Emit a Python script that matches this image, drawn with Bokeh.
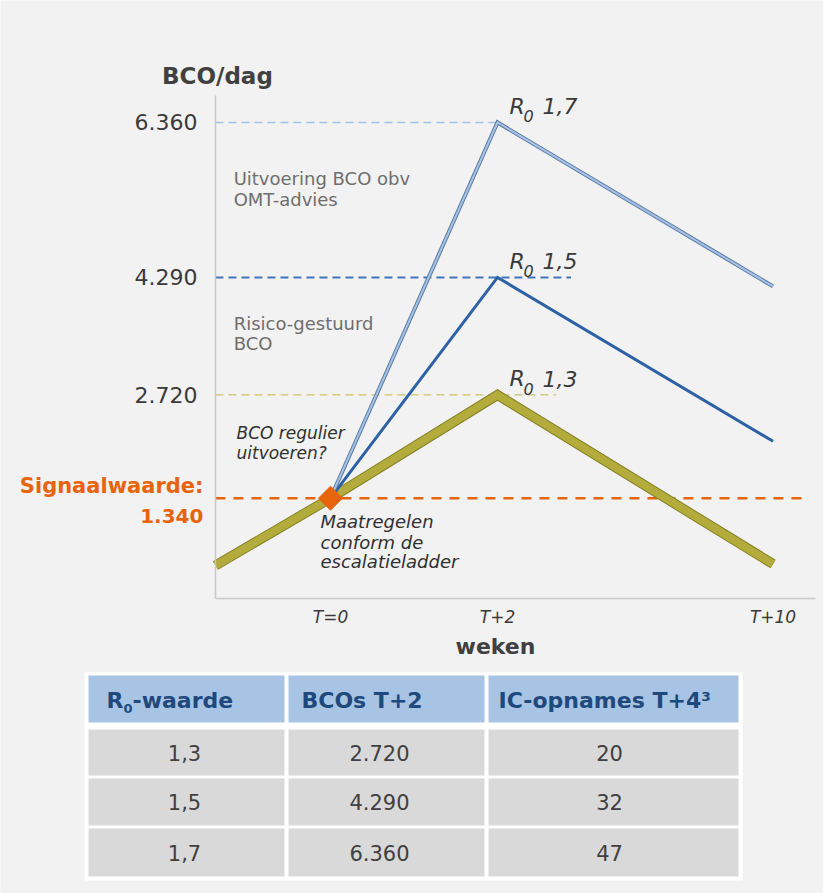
from bokeh.plotting import figure
from bokeh.models import Range1d, FixedTicker, Label
from bokeh.embed import file_html
from bokeh.resources import INLINE
from bokeh.core.properties import value
import math

# ---------------- data ----------------
week_labels = ["T=0", "T+2", "T+10"]
week_pos = [0.0, 1.0, 2.65]          # schematic (not to scale) positions
entry_pos = -0.689                    # left edge of the chart (y-axis position)
chart_right = 2.904
bco_top = 6721

r0_labels = ["1,3", "1,5", "1,7"]
r13_x = [-0.689, 0.0, 1.0, 2.65]
r13_y = [440, 1340, 2720, 460]
r15_x = [0.0, 1.0, 2.65]
r15_y = [1340, 4290, 2100]
r17_x = [0.0, 1.0, 2.65]
r17_y = [1340, 6360, 4170]
peaks = [2720, 4290, 6360]
signal_value = 1340
ic_t4 = [20, 32, 47]

level_ends = [1.35, 1.44, 1.0]        # where the dashed reference lines stop
signal_end = 2.85

def fmt(v):
    return f"{v:,}".replace(",", ".")

# ---------------- style ----------------
BG = "#f2f2f2"
FONT = "DejaVu Sans"
DARK = "#3a3a3a"
ORANGE = "#e8640c"
OLIVE = "#b3ac3c"
OLIVE_EDGE = "#858024"
BLUE = "#2d61a6"
LBLUE = "#a6c2e6"
LBLUE_EDGE = "#5a7aa3"
FIX = 7   # baseline correction for labels (px)

W, H = 823, 893
p = figure(width=W, height=H, x_range=Range1d(-1.976, 2.952), y_range=Range1d(-3942, 7990),
           output_backend="svg", toolbar_location=None, min_border=0)
p.background_fill_color = BG
p.border_fill_color = BG
p.outline_line_color = None
p.grid.visible = False

# y axis
p.yaxis.fixed_location = entry_pos
p.yaxis.bounds = (0, bco_top)
p.yaxis.ticker = FixedTicker(ticks=peaks)
p.yaxis.major_label_overrides = {v: fmt(v) for v in peaks}
p.yaxis.major_label_text_font = FONT
p.yaxis.major_label_text_font_size = "22px"
p.yaxis.major_label_text_color = DARK
p.yaxis.major_label_standoff = 12
p.yaxis.axis_line_color = "#c8c8c8"
p.yaxis.axis_line_width = 1.5
p.yaxis.major_tick_line_color = None
p.yaxis.minor_tick_line_color = None

# x axis
p.xaxis.fixed_location = 0
p.xaxis.bounds = (entry_pos, chart_right)
p.xaxis.ticker = FixedTicker(ticks=week_pos)
p.xaxis.major_label_overrides = dict(zip(week_pos, week_labels))
p.xaxis.major_label_text_font = FONT
p.xaxis.major_label_text_font_style = "italic"
p.xaxis.major_label_text_font_size = "17px"
p.xaxis.major_label_text_color = DARK
p.xaxis.major_label_standoff = 3
p.xaxis.axis_line_color = "#c8c8c8"
p.xaxis.axis_line_width = 1.5
p.xaxis.major_tick_line_color = None
p.xaxis.minor_tick_line_color = None

# dashed reference levels
lvl_colors = ["#c9c56a", "#3f74ba", "#a3c1e8"]
lvl_widths = [1.3, 2.0, 1.5]
p.segment(x0=[entry_pos] * 3, y0=peaks, x1=level_ends, y1=peaks,
          line_color=lvl_colors, line_width=lvl_widths, line_dash="8 5")
p.segment(x0=[entry_pos], y0=[signal_value], x1=[signal_end], y1=[signal_value],
          line_color=ORANGE, line_width=2.5, line_dash="10 8")

# scenario lines
p.line(r13_x, r13_y, line_color=OLIVE_EDGE, line_width=10, line_join="miter")
p.line(r13_x, r13_y, line_color=OLIVE, line_width=8, line_join="miter")
p.line(r15_x, r15_y, line_color=BLUE, line_width=3, line_join="miter")
p.line(r17_x, r17_y, line_color=LBLUE_EDGE, line_width=4, line_join="miter")
p.line(r17_x, r17_y, line_color=LBLUE, line_width=2, line_join="miter")

# signal marker
p.scatter(x=[week_pos[0]], y=[signal_value], marker="square", size=17, angle=math.pi / 4,
          fill_color=ORANGE, line_color=ORANGE)

# R0 labels at peaks
for lab, pk in zip(r0_labels, peaks):
    common = dict(x=week_pos[1], y=pk, text_font=FONT, text_font_style="italic",
                  text_color=DARK, text_baseline="alphabetic")
    p.add_layout(Label(text="R", x_offset=12, y_offset=9 + FIX, text_font_size="22px", **common))
    p.add_layout(Label(text="0", x_offset=26, y_offset=-1 + FIX, text_font_size="16px", **common))
    p.add_layout(Label(text=lab, x_offset=45, y_offset=9 + FIX, text_font_size="22px", **common))

# axis titles + signal value
p.add_layout(Label(text="BCO/dag", x=entry_pos, y=bco_top, x_offset=2, y_offset=12 + FIX,
                   text_align="center", text_baseline="alphabetic", text_font=FONT,
                   text_font_style="bold", text_font_size="23px", text_color="#404040"))
p.add_layout(Label(text="weken", x=week_pos[1], y=0, x_offset=-2, y_offset=-55 + FIX,
                   text_align="center", text_baseline="alphabetic", text_font=FONT,
                   text_font_style="bold", text_font_size="22px", text_color="#404040"))
p.add_layout(Label(text="Signaalwaarde:", x=entry_pos, y=signal_value, x_offset=-12, y_offset=5 + FIX,
                   text_align="right", text_baseline="alphabetic", text_font=FONT,
                   text_font_style="bold", text_font_size="21px", text_color=ORANGE))
p.add_layout(Label(text=fmt(signal_value), x=entry_pos, y=signal_value, x_offset=-12, y_offset=-25 + FIX,
                   text_align="right", text_baseline="alphabetic", text_font=FONT,
                   text_font_style="bold", text_font_size="20px", text_color=ORANGE))

# zone annotations
notes = [
    ("Uitvoering BCO obv", -0.58, 5520, "normal", "#6e6e6e", "18px"),
    ("OMT-advies", -0.58, 5240, "normal", "#6e6e6e", "18px"),
    ("Risico-gestuurd", -0.58, 3581, "normal", "#6e6e6e", "18px"),
    ("BCO", -0.58, 3314, "normal", "#6e6e6e", "18px"),
    ("BCO regulier", -0.563, 2111, "italic", "#303030", "17px"),
    ("uitvoeren?", -0.563, 1844, "italic", "#303030", "17px"),
    ("Maatregelen", -0.06, 935, "italic", "#303030", "18px"),
    ("conform de", -0.06, 655, "italic", "#303030", "18px"),
    ("escalatieladder", -0.06, 401, "italic", "#303030", "18px"),
]
for txt, x, y, style, col, size in notes:
    p.add_layout(Label(text=txt, x=x, y=y, y_offset=FIX, text_font=FONT, text_font_style=style,
                       text_color=col, text_font_size=size, text_baseline="alphabetic"))

# ---------------- table (pixel ranges, y downwards from table top) ----------------
p.extra_x_ranges = {"tx": Range1d(0, W)}
p.extra_y_ranges = {"ty": Range1d(225, -668)}
TR = dict(x_range_name="tx", y_range_name="ty")

col_left = [88, 288, 488]
col_right = [284, 484, 738]
head_top, head_bot = 7, 54
row_top = [61, 110, 160]
row_bot = [107, 157, 208]

p.quad(left=[84], right=[742], top=[4], bottom=[212], fill_color="white", line_color=None, **TR)
p.quad(left=col_left, right=col_right, top=[head_top] * 3, bottom=[head_bot] * 3,
       fill_color="#a7c4e4", line_color=None, **TR)
for rt, rb in zip(row_top, row_bot):
    p.quad(left=col_left, right=col_right, top=[rt] * 3, bottom=[rb] * 3,
           fill_color="#d9d9d9", line_color=None, **TR)

NAVY = "#1f497d"
hmid = (head_top + head_bot) / 2 + 1
p.text(x=[106], y=[hmid], text=["R"], text_font=value(FONT), text_font_style="bold",
       text_font_size="22px", text_color=NAVY, text_baseline="middle", **TR)
p.text(x=[123], y=[hmid + 8], text=["0"], text_font=value(FONT), text_font_style="bold",
       text_font_size="13px", text_color=NAVY, text_baseline="middle", **TR)
p.text(x=[132, 301, 498], y=[hmid] * 3, text=["-waarde", "BCOs T+2", "IC-opnames T+4³"],
       text_font=value(FONT), text_font_style="bold", text_font_size="22px",
       text_color=NAVY, text_baseline="middle", **TR)

col_centers = [184, 379, 609]
for rt, rb, r0, pk, ic in zip(row_top, row_bot, r0_labels, peaks, ic_t4):
    p.text(x=col_centers, y=[(rt + rb) / 2] * 3, text=[r0, fmt(pk), str(ic)],
           text_font=value(FONT), text_font_size="21px", text_color="#404040",
           text_align="center", text_baseline="middle", **TR)

open("out.html", "w").write(file_html(p, INLINE))
